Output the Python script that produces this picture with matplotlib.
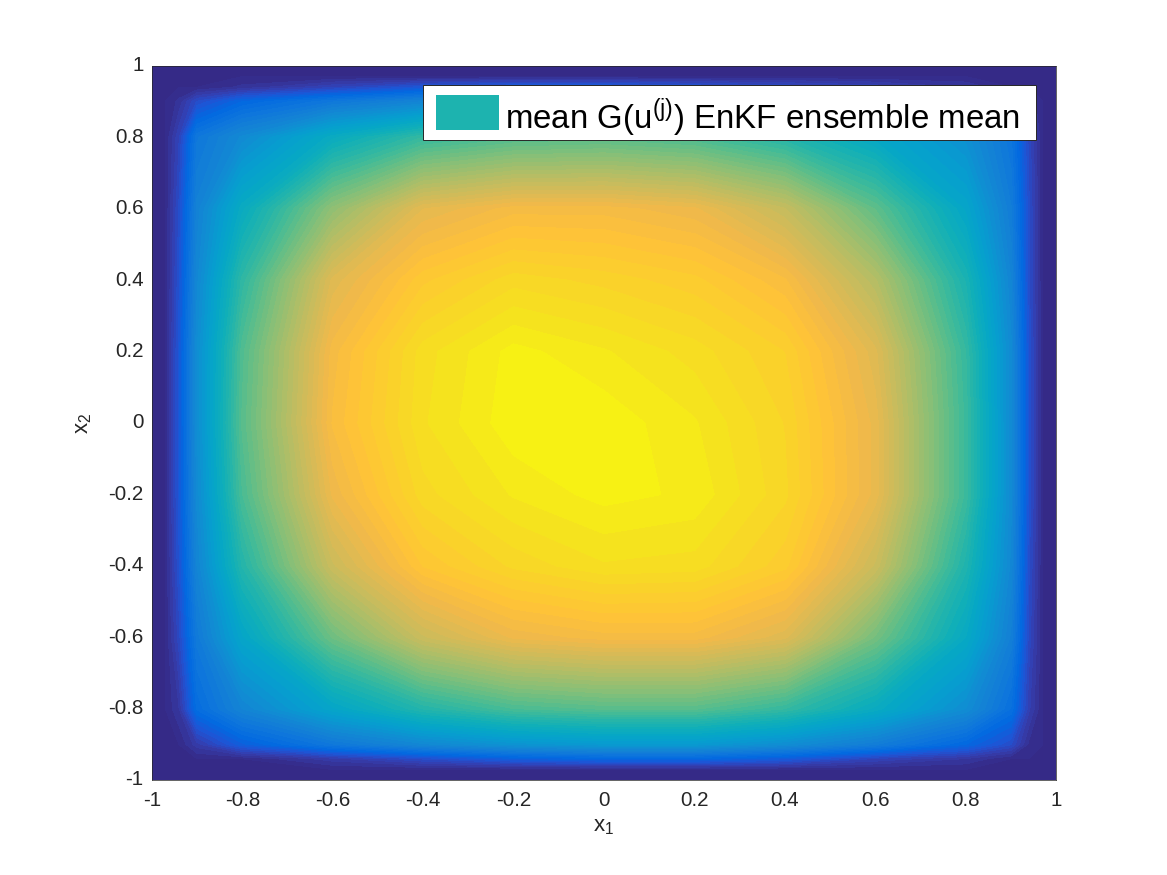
import numpy
import matplotlib
matplotlib.use('Agg')

import matplotlib.pyplot as plt
from matplotlib.colors import LinearSegmentedColormap
from matplotlib.patches import Rectangle
from matplotlib.transforms import ScaledTranslation

plt.rcParams['font.family'] = ['Liberation Sans', 'DejaVu Sans']
plt.rcParams['mathtext.fontset'] = 'custom'
plt.rcParams['mathtext.rm'] = 'Liberation Sans'
plt.rcParams['mathtext.it'] = 'Liberation Sans'

# grid nodes, denser near the walls where the field drops off
x_nodes = [-1, -.97, -.94, -.9, -.8, -.6, -.4, -.2, 0, .2, .4, .6, .8, .9, .94, .97, 1]
y_nodes = [1, .97, .94, .9, .8, .6, .4, .2, 0, -.2, -.4, -.6, -.8, -.9, -.94, -.97, -1]

# values, one row per y node, top to bottom
row_p100 = [0] * 17
row_p097 = [0] * 17
row_p094 = [0, 0, 0, 0, .02, .06, .1, .12, .12, .1, .08, .06, .03, 0, 0, 0, 0]
row_p090 = [0, 0, .02, .08, .14, .2, .25, .28, .3, .3, .27, .22, .16, .1, .03, 0, 0]
row_p080 = [0, 0, .06, .2, .27, .4, .5, .54, .55, .53, .47, .38, .29, .19, .07, 0, 0]
row_p060 = [0, 0, .08, .24, .4, .63, .78, .82, .82, .8, .72, .56, .37, .22, .08, 0, 0]
row_p040 = [0, 0, .09, .26, .49, .77, .87, .915, .9, .88, .83, .69, .45, .25, .08, 0, 0]
row_p020 = [0, 0, .1, .28, .54, .82, .93, .975, .955, .93, .89, .77, .5, .27, .09, 0, 0]
row_000 = [0, 0, .1, .28, .55, .83, .935, .98, .98, .955, .905, .79, .51, .27, .09, 0, 0]
row_m020 = [0, 0, .1, .27, .53, .8, .915, .955, .975, .965, .91, .79, .51, .27, .09, 0, 0]
row_m040 = [0, 0, .09, .25, .47, .73, .86, .91, .935, .93, .88, .73, .46, .26, .08, 0, 0]
row_m060 = [0, 0, .07, .21, .37, .58, .73, .8, .82, .82, .77, .59, .39, .23, .07, 0, 0]
row_m080 = [0, 0, .03, .16, .25, .37, .47, .53, .55, .55, .5, .4, .28, .17, .05, 0, 0]
row_m090 = [0, 0, 0, .04, .12, .2, .26, .3, .32, .32, .28, .22, .14, .08, .01, 0, 0]
row_m094 = [0, 0, 0, 0, 0, .04, .08, .12, .14, .14, .11, .06, .03, 0, 0, 0, 0]
row_m097 = [0] * 17
row_m100 = [0] * 17

tick_values = [-1, -.8, -.6, -.4, -.2, 0, .2, .4, .6, .8, 1]
tick_labels = ['-1', '-0.8', '-0.6', '-0.4', '-0.2', '0', '0.2', '0.4', '0.6', '0.8', '1']
legend_label = 'mean G(u$^{\\mathrm{(j)}}$) EnKF ensemble mean'

parula_colors = [
    (0.2081, 0.1663, 0.5292), (0.2081, 0.2386, 0.6771), (0.1253, 0.3242, 0.8303),
    (0.0060, 0.4086, 0.8828), (0.0498, 0.4586, 0.8641), (0.0779, 0.5040, 0.8384),
    (0.0641, 0.5570, 0.8240), (0.0265, 0.6137, 0.8135), (0.0228, 0.6535, 0.7768),
    (0.0590, 0.6838, 0.7254), (0.1453, 0.7098, 0.6646), (0.2586, 0.7317, 0.5954),
    (0.3953, 0.7459, 0.5244), (0.5300, 0.7491, 0.4661), (0.6473, 0.7456, 0.4188),
    (0.7525, 0.7384, 0.3768), (0.8507, 0.7299, 0.3360), (0.9450, 0.7261, 0.2886),
    (0.9990, 0.7653, 0.2164), (0.9789, 0.8271, 0.1633), (0.9589, 0.8949, 0.1132),
    (0.9763, 0.9831, 0.0538),
]
parula = LinearSegmentedColormap.from_list('parula', parula_colors)

W, H = 1167.0, 875.0


def px_box(fig, left, top, right, bottom, **kwargs):
    # rectangle given in picture pixels, for the legend box
    return Rectangle((left / W, 1 - bottom / H), (right - left) / W, (bottom - top) / H,
                     transform=fig.transFigure, clip_on=False, **kwargs)


def plot(dest):
    field = numpy.array([row_p100, row_p097, row_p094, row_p090, row_p080, row_p060,
                         row_p040, row_p020, row_000, row_m020, row_m040, row_m060,
                         row_m080, row_m090, row_m094, row_m097, row_m100])

    fig = plt.figure(figsize=(11.67, 8.75), dpi=100)
    ax = fig.add_axes([152 / W, 1 - 780 / H, 904 / W, 714 / H])
    cs = ax.contourf(x_nodes, y_nodes, field, levels=numpy.linspace(0, 1, 65),
                     cmap=parula, vmin=0, vmax=1, extend='both')
    cs.set_edgecolor('face')
    cs.set_linewidth(0.3)

    ax.set_xlim(-1, 1)
    ax.set_ylim(-1, 1)
    ax.set_xticks(tick_values)
    ax.set_xticklabels(tick_labels)
    ax.set_yticks(tick_values)
    ax.set_yticklabels(tick_labels)
    ax.tick_params(length=0, labelsize=14.8, colors='#262626')
    ax.tick_params(axis='x', pad=8)
    ax.tick_params(axis='y', pad=6)
    # y labels sit a little high in the original
    shift = ScaledTranslation(0, 1.5 / 72, fig.dpi_scale_trans)
    for label in ax.get_yticklabels():
        label.set_transform(label.get_transform() + shift)
    for spine in ax.spines.values():
        spine.set_linewidth(0.5)
        spine.set_color('#262626')
    ax.set_xlabel('x$_{\\mathrm{1}}$', fontsize=16, color='#262626', labelpad=4)
    ax.set_ylabel('x$_{\\mathrm{2}}$', fontsize=16, color='#262626', labelpad=10)

    # legend box, matlab makes it much tighter than ax.legend can
    ax.add_patch(px_box(fig, 423, 85, 1036, 140, facecolor='white', edgecolor='#262626',
                        linewidth=0.7, zorder=5))
    ax.add_patch(px_box(fig, 436, 95, 499, 130, facecolor=parula(0.46), edgecolor='none',
                        zorder=6))
    ax.text(505 / W, 1 - 129 / H, legend_label, transform=fig.transFigure, fontsize=23.8,
            color='black', ha='left', va='baseline', zorder=6)

    fig.savefig(dest, dpi=100)


if __name__ == '__main__':
    plot('out.png')
